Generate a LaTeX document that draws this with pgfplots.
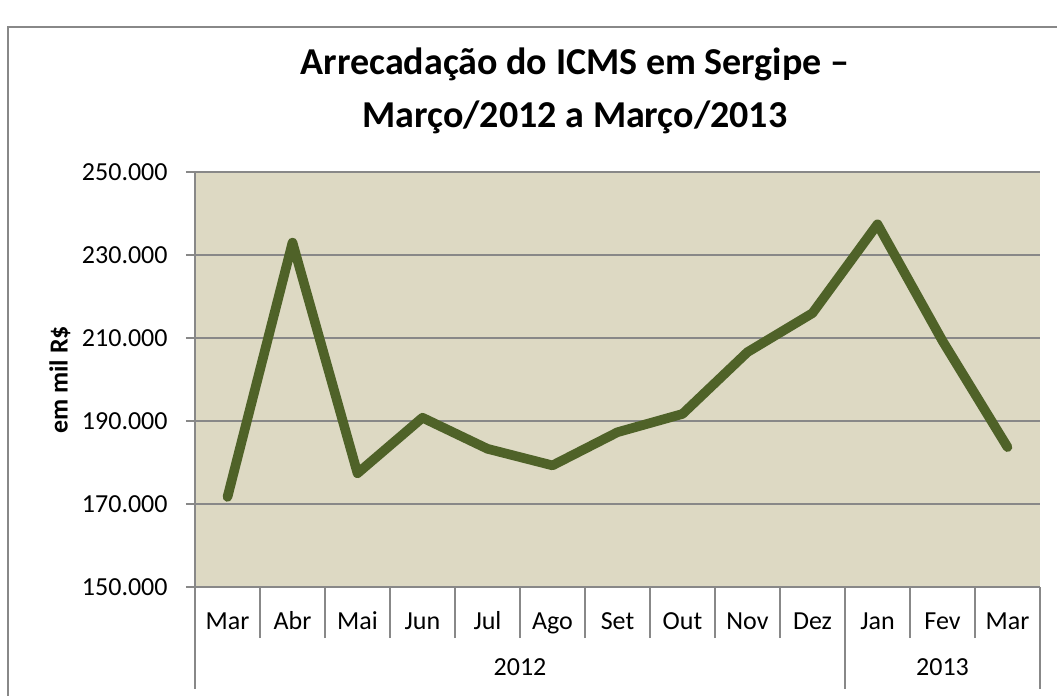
\documentclass[border=0pt]{standalone}
\usepackage{pgfplots}
\pgfplotsset{compat=1.18}
\usepackage{fontspec}
\setmainfont{Carlito}
\definecolor{bgtan}{HTML}{DDD9C3}
\definecolor{lineolive}{HTML}{4F6228}
\definecolor{gridgray}{HTML}{888888}
\begin{document}
\begin{tikzpicture}
\path[use as bounding box] (0,0) rectangle (528.5pt,-348pt);
\draw[gridgray, line width=1.1pt] (4pt,-349pt) -- (4pt,-13.5pt) -- (529pt,-13.5pt);
\node[anchor=base, font=\bfseries\fontsize{19}{26}\selectfont] at (287.5pt,-37.5pt) {Arrecadação do ICMS em Sergipe –};
\node[anchor=base, font=\bfseries\fontsize{19}{26}\selectfont] at (287.5pt,-63.5pt) {Março/2012 a Março/2013};
\node[rotate=90, font=\bfseries\fontsize{13}{15}\selectfont] at (30pt,-190pt) {em mil R\$};
\begin{axis}[
  at={(97.5pt,-293.5pt)}, anchor=south west,
  width=422.5pt, height=207.5pt, scale only axis,
  xmin=-0.5, xmax=12.5, ymin=150, ymax=250,
  clip=false,
  axis background/.style={fill=bgtan},
  axis x line*=bottom, axis y line*=left,
  axis line style={draw=gridgray, line width=1pt, -},
  ymajorgrids, major grid style={draw=gridgray, line width=0.9pt},
  ytick={150,170,...,250},
  yticklabels={150.000,170.000,190.000,210.000,230.000,250.000},
  xtick={0,...,12},
  xticklabels={Mar,Abr,Mai,Jun,Jul,Ago,Set,Out,Nov,Dez,Jan,Fev,Mar},
  minor xtick={-0.5,0.5,...,12.5},
  tick align=outside,
  major tick length=4.5pt, minor tick length=25.5pt,
  xtick style={draw=none},
  minor x tick style={draw=gridgray, line width=1pt},
  y tick style={draw=gridgray, line width=0.9pt},
  tick label style={font=\fontsize{13}{15}\selectfont, text=black},
  yticklabel style={anchor=east, inner sep=0pt, xshift=-9pt},
  xticklabel style={anchor=base, inner sep=0pt, yshift=-16.5pt},
]
\addplot[lineolive, line width=4.8pt, line join=round, line cap=round] coordinates {
  (0,171.7) (1,233.0) (2,177.4) (3,190.8) (4,183.3) (5,179.3) (6,187.3)
  (7,191.7) (8,206.6) (9,216.0) (10,237.4) (11,209.3) (12,183.7)
};
\draw[gridgray, line width=1pt] (axis cs:-0.5,150) -- ([yshift=-51pt]axis cs:-0.5,150);
\draw[gridgray, line width=1pt] (axis cs:9.5,150) -- ([yshift=-51pt]axis cs:9.5,150);
\draw[gridgray, line width=1pt] (axis cs:12.5,150) -- ([yshift=-51pt]axis cs:12.5,150);
\node[font=\fontsize{13}{15}\selectfont] at ([yshift=-40pt]axis cs:4.5,150) {2012};
\node[font=\fontsize{13}{15}\selectfont] at ([yshift=-40pt]axis cs:11,150) {2013};
\end{axis}
\end{tikzpicture}
\end{document}
